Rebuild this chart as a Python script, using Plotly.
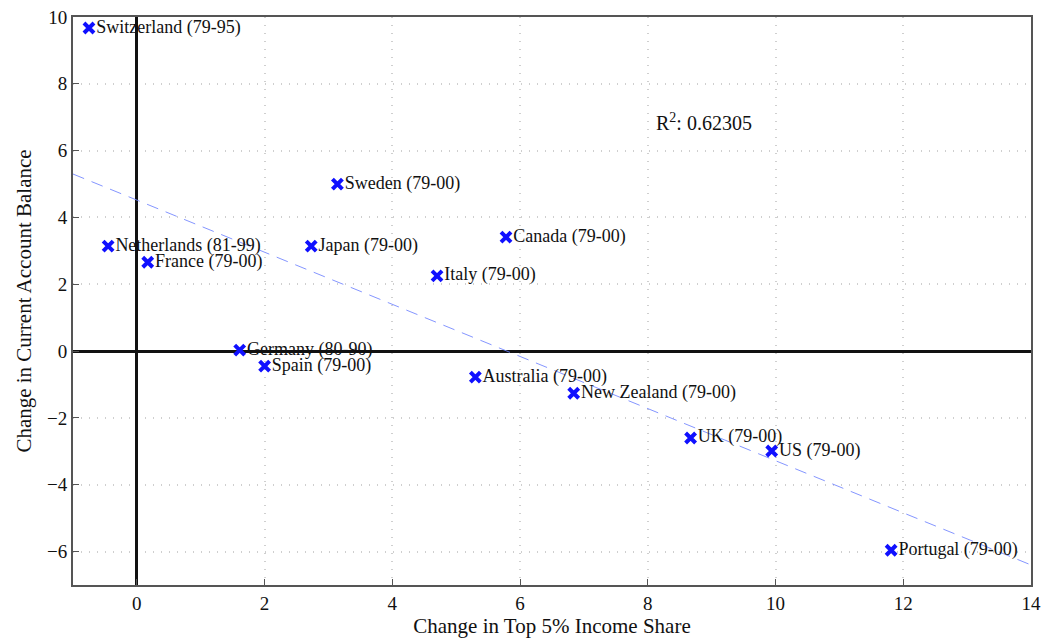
import plotly.graph_objects as go

countries = ["Switzerland (79-95)", "Netherlands (81-99)", "France (79-00)", "Germany (80-90)",
             "Spain (79-00)", "Japan (79-00)", "Sweden (79-00)", "Italy (79-00)", "Canada (79-00)",
             "Australia (79-00)", "New Zealand (79-00)", "UK (79-00)", "US (79-00)", "Portugal (79-00)"]
income_change = [-0.75, -0.45, 0.17, 1.61, 2.0, 2.73, 3.14, 4.70, 5.78, 5.30, 6.84, 8.67, 9.94, 11.81]
ca_change = [9.67, 3.14, 2.66, 0.03, -0.45, 3.14, 5.0, 2.25, 3.41, -0.78, -1.26, -2.60, -2.99, -5.96]

fit_x = [-1, 14]
fit_y = [5.3, -6.4]

x_ticks = [0, 2, 4, 6, 8, 10, 12, 14]
y_ticks = [-6, -4, -2, 0, 2, 4, 6, 8, 10]

serif = "Liberation Serif"

fig = go.Figure()
fig.add_trace(go.Scatter(
    x=fit_x, y=fit_y, mode="lines",
    line=dict(color="rgba(110,130,255,0.85)", width=1, dash="12px,8px"),
    hoverinfo="skip", showlegend=False))
fig.add_trace(go.Scatter(
    x=income_change, y=ca_change, mode="markers+text",
    text=countries, textposition="middle right",
    textfont=dict(family=serif, size=18, color="#111"),
    marker=dict(symbol="x-thin", size=10, line=dict(color="#1010ff", width=4)),
    showlegend=False))

fig.add_annotation(x=8.1, y=6.86, xref="x", yref="y", xanchor="left", yanchor="middle",
                   text="R<sup>2</sup>: 0.62305", showarrow=False,
                   font=dict(family=serif, size=20, color="#111"))

axis_common = dict(
    showline=True, linecolor="#555", linewidth=2, mirror=True,
    ticks="inside", ticklen=6, tickcolor="#555",
    showgrid=True, gridcolor="#cfcfcf", griddash="1px,7px", gridwidth=1.5,
    zeroline=True, zerolinecolor="#111", zerolinewidth=2.5,
    tickfont=dict(family=serif, size=19, color="#111"),
    automargin=False,
)

fig.update_xaxes(range=[-1, 14], tickvals=x_ticks,
                 title=dict(text="Change in Top 5% Income Share", font=dict(family=serif, size=21, color="#111"), standoff=6),
                 **axis_common)
fig.update_yaxes(range=[-7, 10], tickvals=y_ticks,
                 title=dict(text="Change in Current Account Balance", font=dict(family=serif, size=21, color="#111"), standoff=10),
                 **axis_common)

fig.update_layout(
    width=1042, height=643,
    margin=dict(l=73, r=11, t=17, b=58),
    plot_bgcolor="white", paper_bgcolor="white",
)

fig.write_html("out.html")
